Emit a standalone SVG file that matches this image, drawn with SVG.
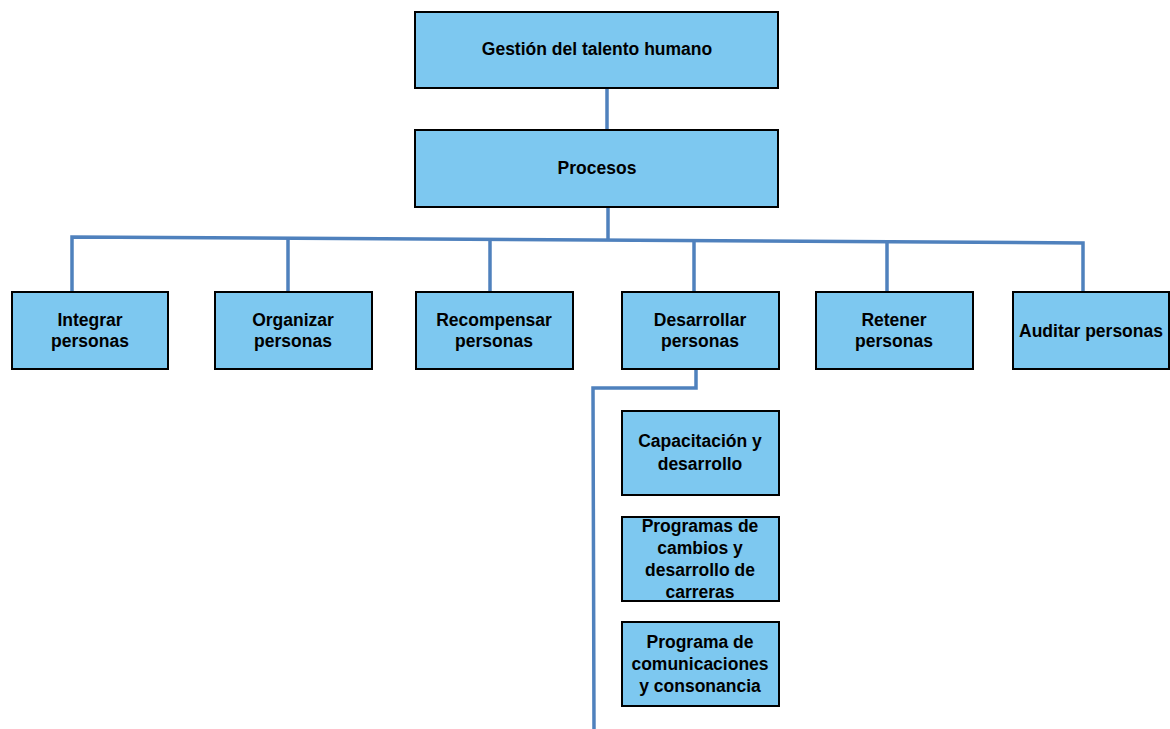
<svg xmlns="http://www.w3.org/2000/svg" width="1170" height="729" viewBox="0 0 1170 729">
<style>
.box{fill:#7DC8F0;stroke:#000;stroke-width:2}
.t{font-family:"Liberation Sans",Arial,sans-serif;font-weight:bold;font-size:17.5px;fill:#000;text-anchor:middle}
.c{fill:none;stroke:#4F81BD;stroke-width:3.5;stroke-linejoin:miter}
</style>
<rect width="1170" height="729" fill="#fff"/>
<g id="connectors">
<line class="c" x1="607" y1="88" x2="607" y2="130"/>
<line class="c" x1="608" y1="207" x2="608" y2="239"/>
<polyline class="c" points="72,291 72,237 1083,243 1083,291"/>
<line class="c" x1="288" y1="238" x2="288" y2="291"/>
<line class="c" x1="490" y1="239" x2="490" y2="291"/>
<line class="c" x1="694" y1="240" x2="694" y2="291"/>
<line class="c" x1="887" y1="241" x2="887" y2="291"/>
<polyline class="c" points="696,369 696,388 593,388 594,729"/>
</g>
<g id="n-gestion">
<rect class="box" x="415" y="12" width="363" height="76"/>
<text class="t" x="597" y="55">Gestión del talento humano</text>
</g>
<g id="n-procesos">
<rect class="box" x="415" y="130" width="363" height="77"/>
<text class="t" x="597" y="174">Procesos</text>
</g>
<g id="n-integrar">
<rect class="box" x="12" y="292" width="156" height="77"/>
<text class="t" x="90" y="326">Integrar</text>
<text class="t" x="90" y="347">personas</text>
</g>
<g id="n-organizar">
<rect class="box" x="215" y="292" width="157" height="77"/>
<text class="t" x="293" y="326">Organizar</text>
<text class="t" x="293" y="347">personas</text>
</g>
<g id="n-recompensar">
<rect class="box" x="416" y="292" width="157" height="77"/>
<text class="t" x="494" y="326">Recompensar</text>
<text class="t" x="494" y="347">personas</text>
</g>
<g id="n-desarrollar">
<rect class="box" x="622" y="292" width="157" height="77"/>
<text class="t" x="700" y="326">Desarrollar</text>
<text class="t" x="700" y="347">personas</text>
</g>
<g id="n-retener">
<rect class="box" x="816" y="292" width="157" height="77"/>
<text class="t" x="894" y="326">Retener</text>
<text class="t" x="894" y="347">personas</text>
</g>
<g id="n-auditar">
<rect class="box" x="1013" y="292" width="156" height="77"/>
<text class="t" x="1091" y="337">Auditar personas</text>
</g>
<g id="n-capacitacion">
<rect class="box" x="622" y="411" width="157" height="84"/>
<text class="t" x="700" y="447">Capacitación y</text>
<text class="t" x="700" y="470">desarrollo</text>
</g>
<g id="n-programas">
<rect class="box" x="622" y="517" width="157" height="84"/>
<text class="t" x="700" y="532">Programas de</text>
<text class="t" x="700" y="554">cambios y</text>
<text class="t" x="700" y="576">desarrollo de</text>
<text class="t" x="700" y="598">carreras</text>
</g>
<g id="n-comunicaciones">
<rect class="box" x="622" y="622" width="157" height="84"/>
<text class="t" x="700" y="648">Programa de</text>
<text class="t" x="700" y="670">comunicaciones</text>
<text class="t" x="700" y="692">y consonancia</text>
</g>
</svg>
